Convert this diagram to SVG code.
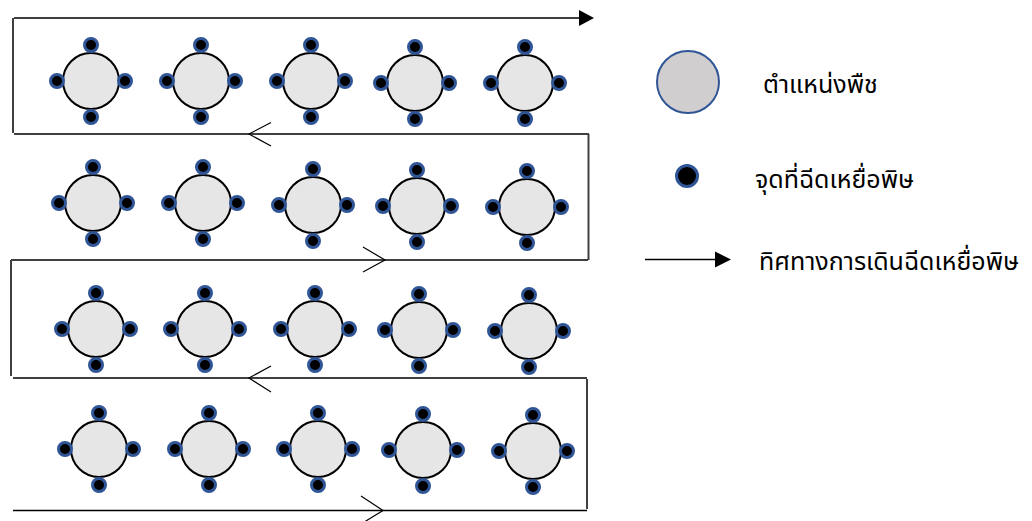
<svg xmlns="http://www.w3.org/2000/svg" width="1032" height="521" viewBox="0 0 1032 521">
<style>
.plant{fill:#e6e6e6;stroke:#000;stroke-width:2}
.dot{fill:#000;stroke:#2f5597;stroke-width:3}
.ln{fill:none;stroke:#000;stroke-width:1.5}
.vl{fill:none;stroke:#404040;stroke-width:2}
.ch{fill:none;stroke:#000;stroke-width:1.2}
.lbl{font-family:"Noto Sans Thai","Tahoma","DejaVu Sans","Noto Sans",sans-serif;font-size:25px;fill:#000}
</style>
<defs>
<g id="p">
<circle class="plant" cx="0" cy="0" r="28"/>
<circle class="dot" cx="0" cy="-36" r="6.5"/>
<circle class="dot" cx="0" cy="36" r="6.5"/>
<circle class="dot" cx="-34" cy="0" r="6.5"/>
<circle class="dot" cx="34" cy="0" r="6.5"/>
</g>
</defs>
<g id="connectors">
<line class="ln" x1="14" y1="18" x2="581" y2="18"/>
<polygon points="579,10 594,18 579,26" fill="#000"/>
<line class="vl" x1="13" y1="18" x2="13" y2="133"/>
<line class="ln" x1="14" y1="134" x2="589" y2="134"/>
<polyline class="ch" points="271,122.5 249,134 271,146"/>
<line class="vl" x1="588.5" y1="134" x2="588.5" y2="260"/>
<line class="ln" x1="11" y1="260" x2="588" y2="260"/>
<polyline class="ch" points="363,247 385,260 363,272"/>
<line class="vl" x1="11" y1="260" x2="11" y2="376"/>
<line class="ln" x1="13" y1="378" x2="587" y2="378"/>
<polyline class="ch" points="271,366 249,378 271,392"/>
<line class="vl" x1="587" y1="379" x2="587" y2="509"/>
<line class="ln" x1="13" y1="510.5" x2="587" y2="510.5"/>
<polyline class="ch" points="361,496 383,510.5 361,524"/>
</g>
<g id="row1">
<use href="#p" x="91" y="81"/>
<use href="#p" x="201" y="81"/>
<use href="#p" x="311" y="81"/>
<use href="#p" x="415" y="83"/>
<use href="#p" x="525" y="83"/>
</g>
<g id="row2">
<use href="#p" x="93" y="203"/>
<use href="#p" x="203" y="203"/>
<use href="#p" x="313" y="205"/>
<use href="#p" x="417" y="206"/>
<use href="#p" x="527" y="207"/>
</g>
<g id="row3">
<use href="#p" x="96" y="329"/>
<use href="#p" x="205" y="329"/>
<use href="#p" x="315" y="329"/>
<use href="#p" x="419" y="330"/>
<use href="#p" x="529" y="331"/>
</g>
<g id="row4">
<use href="#p" x="99" y="449"/>
<use href="#p" x="209" y="449"/>
<use href="#p" x="318" y="449"/>
<use href="#p" x="423" y="450"/>
<use href="#p" x="533" y="451"/>
</g>
<g id="legend-plant">
<circle cx="688" cy="82" r="31" fill="#d0cece" stroke="#2f5597" stroke-width="2"/>
<text class="lbl" x="763" y="93">ตำแหน่งพืช</text>
</g>
<g id="legend-dot">
<circle cx="687" cy="176" r="10.5" fill="#000" stroke="#2f5597" stroke-width="3"/>
<text class="lbl" x="755" y="188">จุดที่ฉีดเหยื่อพิษ</text>
</g>
<g id="legend-arrow">
<line x1="645" y1="259.5" x2="717" y2="259.5" stroke="#000" stroke-width="1.5"/>
<polygon points="715,251.5 731,259.5 715,267.5" fill="#000"/>
<text class="lbl" x="759" y="270">ทิศทางการเดินฉีดเหยื่อพิษ</text>
</g>
</svg>
